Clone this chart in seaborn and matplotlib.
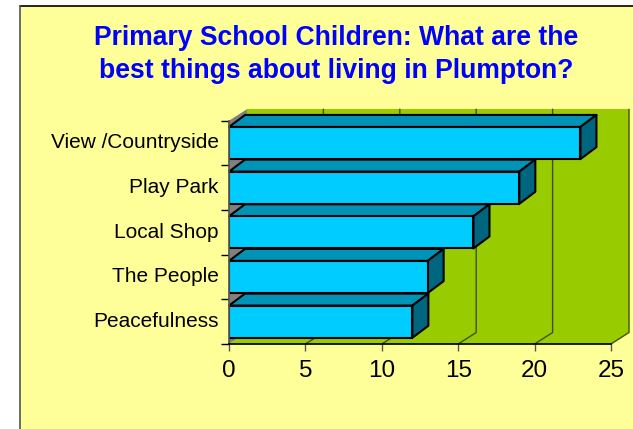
import matplotlib
matplotlib.use("Agg")
import pandas as pd
import seaborn as sns
from matplotlib import pyplot as plt
from matplotlib.patches import Polygon, Rectangle
from matplotlib.transforms import ScaledTranslation

categorias = ["View /Countryside", "Play Park", "Local Shop", "The People", "Peacefulness"]
valores = [23, 19, 16, 13, 12]
x_ticks = [0, 5, 10, 15, 20, 25]
titulo = "Primary School Children: What are the\nbest things about living in Plumpton?"

W, H = 633, 429
AMARELO = "#FFFF99"
VERDE = "#99CC00"
CIANO = "#00CCFF"
TOPO = "#0093B8"
LADO = "#006680"
CINZA = "#808080"

sns.set_theme(style="white")
plt.rcParams["font.family"] = ["Liberation Sans", "DejaVu Sans"]

fig = plt.figure(figsize=(W / 100, H / 100), dpi=100, facecolor="white")

# Painel amarelo de fundo
fig.add_artist(Rectangle((20 / W, 0), 1, (H - 6) / H, transform=fig.transFigure,
                         facecolor=AMARELO, edgecolor="none", zorder=-2))
fig.add_artist(plt.Line2D([20 / W, 1], [(H - 6) / H] * 2, color="black", lw=1.2, zorder=-1))
fig.add_artist(plt.Line2D([20 / W, 20 / W], [0, (H - 6) / H], color="#555555", lw=1.2, zorder=-1))

# Eixo posicionado em pixels
esq, dir_, topo, base = 229, 611, 120.7, 344
ax = fig.add_axes([esq / W, 1 - base / H, (dir_ - esq) / W, (base - topo) / H])
ax.patch.set_alpha(0)

df = pd.DataFrame({"categoria": categorias, "valor": valores})
sns.barplot(data=df, y="categoria", x="valor", orient="h", color=CIANO, saturation=1,
            width=0.72, edgecolor="black", linewidth=1.5, ax=ax, zorder=5)
ax.set_xlim(0, 25)
ax.set_ylim(len(categorias) - 0.5, -0.5)
ax.set_xlabel("")
ax.set_ylabel("")

# Profundidade 3D, convertida de pixels para unidades dos dados
px_x = (dir_ - esq) / 25
px_y = (base - topo) / len(categorias)
wall_dx, wall_dy = 18 / px_x, 11.5 / px_y
bar_dx, bar_dy = 16 / px_x, 12 / px_y
y0, y1 = len(categorias) - 0.5, -0.5

barras = list(ax.patches)

# Parede do fundo, parede lateral e piso
ax.add_patch(Polygon([(wall_dx, y0 - wall_dy), (25 + wall_dx, y0 - wall_dy),
                      (25 + wall_dx, y1 - wall_dy), (wall_dx, y1 - wall_dy)],
                     facecolor=VERDE, edgecolor="none", zorder=1, clip_on=False))
ax.add_patch(Polygon([(0, y0), (wall_dx, y0 - wall_dy), (wall_dx, y1 - wall_dy), (0, y1)],
                     facecolor=CINZA, edgecolor="none", zorder=1.5, clip_on=False))
ax.add_patch(Polygon([(0, y0), (25, y0), (25 + wall_dx, y0 - wall_dy), (wall_dx, y0 - wall_dy)],
                     facecolor=VERDE, edgecolor="none", zorder=1.6, clip_on=False))

# Linhas de grade na parede e no piso
for t in x_ticks[1:]:
    ax.plot([t, t + wall_dx, t + wall_dx], [y0, y0 - wall_dy, y1 - wall_dy],
            color="#3F5200", lw=1, zorder=2, clip_on=False)

# Faces de topo e lateral das barras
for barra in barras:
    x1 = barra.get_width()
    a, b = barra.get_y(), barra.get_y() + barra.get_height()
    ax.add_patch(Polygon([(0, a), (bar_dx, a - bar_dy), (x1 + bar_dx, a - bar_dy), (x1, a)],
                         facecolor=TOPO, edgecolor="black", lw=1.5, zorder=4,
                         joinstyle="round", clip_on=False))
    ax.add_patch(Polygon([(x1, a), (x1 + bar_dx, a - bar_dy), (x1 + bar_dx, b - bar_dy), (x1, b)],
                         facecolor=LADO, edgecolor="black", lw=1.5, zorder=4,
                         joinstyle="round", clip_on=False))

# Eixos e marcas
for lado in ["top", "right"]:
    ax.spines[lado].set_visible(False)
ax.spines["left"].set_color("#555555")
ax.spines["bottom"].set_color("black")
ax.spines["left"].set_zorder(6)
ax.spines["bottom"].set_zorder(6)
ax.set_xticks(x_ticks)
ax.set_yticks([i + 0.5 for i in range(-1, len(categorias))], minor=True)
ax.tick_params(axis="x", length=5, width=1, color="#555555", labelsize=17.5,
               labelcolor="black", pad=6.5, bottom=True)
ax.tick_params(axis="y", which="major", length=0, labelsize=15, labelcolor="black", pad=7.5)
ax.tick_params(axis="y", which="minor", length=6, width=1, color="black", left=True)

# Rótulos das categorias um pouco acima do centro
sobe = ScaledTranslation(0, 1.5 / 72, fig.dpi_scale_trans)
for rotulo in ax.get_yticklabels():
    rotulo.set_transform(rotulo.get_transform() + sobe)

fig.text(336.5 / W, 1 - 54.5 / H, titulo, ha="center", va="center", color="#0000FF",
         fontsize=19.1, fontweight="bold", linespacing=1.35)

plt.savefig("out.png", dpi=100, facecolor="white")
plt.close()
